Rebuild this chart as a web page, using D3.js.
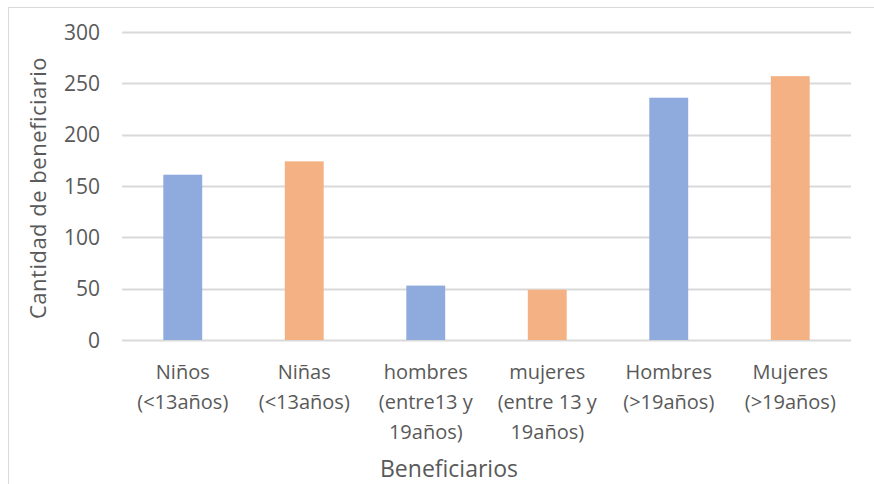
<!DOCTYPE html>
<html>
<head>
<meta charset="utf-8">
<script src="https://cdn.jsdelivr.net/npm/d3@7"></script>
<style>
  body { margin: 0; background: #fff; }
  text { font-family: "Open Sans", sans-serif; fill: #595959; }
</style>
</head>
<body>
<div id="chart"></div>
<script>
var categories = [
  ["Niños", "(<13años)"],
  ["Niñas", "(<13años)"],
  ["hombres", "(entre13 y", "19años)"],
  ["mujeres", "(entre 13 y", "19años)"],
  ["Hombres", "(>19años)"],
  ["Mujeres", "(>19años)"]
];
var values = [161, 174, 53, 49, 236, 257];
var barColors = ["#8faadc", "#f4b183", "#8faadc", "#f4b183", "#8faadc", "#f4b183"];
var yTicks = [0, 50, 100, 150, 200, 250, 300];

var width = 874, height = 484;
var plot = { left: 122, right: 851, top: 32, bottom: 340 };

var svg = d3.select("#chart").append("svg")
  .attr("width", width)
  .attr("height", height);

// chart area border
svg.append("rect")
  .attr("x", 8.5).attr("y", 7.5)
  .attr("width", 880).attr("height", 490)
  .attr("fill", "none")
  .attr("stroke", "#d9d9d9");

var x = d3.scaleBand()
  .domain(d3.range(categories.length))
  .range([plot.left, plot.right])
  .paddingInner(0.68)
  .paddingOuter(0.34);

var y = d3.scaleLinear()
  .domain([0, 300])
  .range([plot.bottom, plot.top]);

// gridlines
svg.append("g")
  .selectAll("line")
  .data(yTicks)
  .enter()
  .append("line")
  .attr("x1", plot.left)
  .attr("x2", plot.right)
  .attr("y1", function(d) { return Math.round(y(d)) + 0.5; })
  .attr("y2", function(d) { return Math.round(y(d)) + 0.5; })
  .attr("stroke", "#d9d9d9")
  .attr("stroke-width", 2);

// y tick labels
svg.append("g")
  .selectAll("text")
  .data(yTicks)
  .enter()
  .append("text")
  .attr("x", 100)
  .attr("y", function(d) { return y(d); })
  .attr("dy", "0.36em")
  .attr("text-anchor", "end")
  .attr("font-size", 21)
  .text(function(d) { return d; });

// bars
svg.append("g")
  .selectAll("rect")
  .data(values)
  .enter()
  .append("rect")
  .attr("x", function(d, i) { return x(i); })
  .attr("y", function(d) { return y(d); })
  .attr("width", x.bandwidth())
  .attr("height", function(d) { return y(0) - y(d); })
  .attr("fill", function(d, i) { return barColors[i]; });

// category labels
var labels = svg.append("g")
  .selectAll("text")
  .data(categories)
  .enter()
  .append("text")
  .attr("text-anchor", "middle")
  .attr("font-size", 20)
  .attr("transform", function(d, i) {
    return "translate(" + (x(i) + x.bandwidth() / 2) + ",379)";
  });

labels.selectAll("tspan")
  .data(function(d) { return d; })
  .enter()
  .append("tspan")
  .attr("x", 0)
  .attr("y", function(d, j) { return j * 30; })
  .text(function(d) { return d; });

// axis titles
svg.append("text")
  .attr("x", 449)
  .attr("y", 477)
  .attr("text-anchor", "middle")
  .attr("font-size", 23)
  .text("Beneficiarios");

svg.append("text")
  .attr("transform", "translate(46,188) rotate(-90)")
  .attr("text-anchor", "middle")
  .attr("font-size", 22)
  .attr("letter-spacing", 0.5)
  .text("Cantidad de beneficiario");
</script>
</body>
</html>
